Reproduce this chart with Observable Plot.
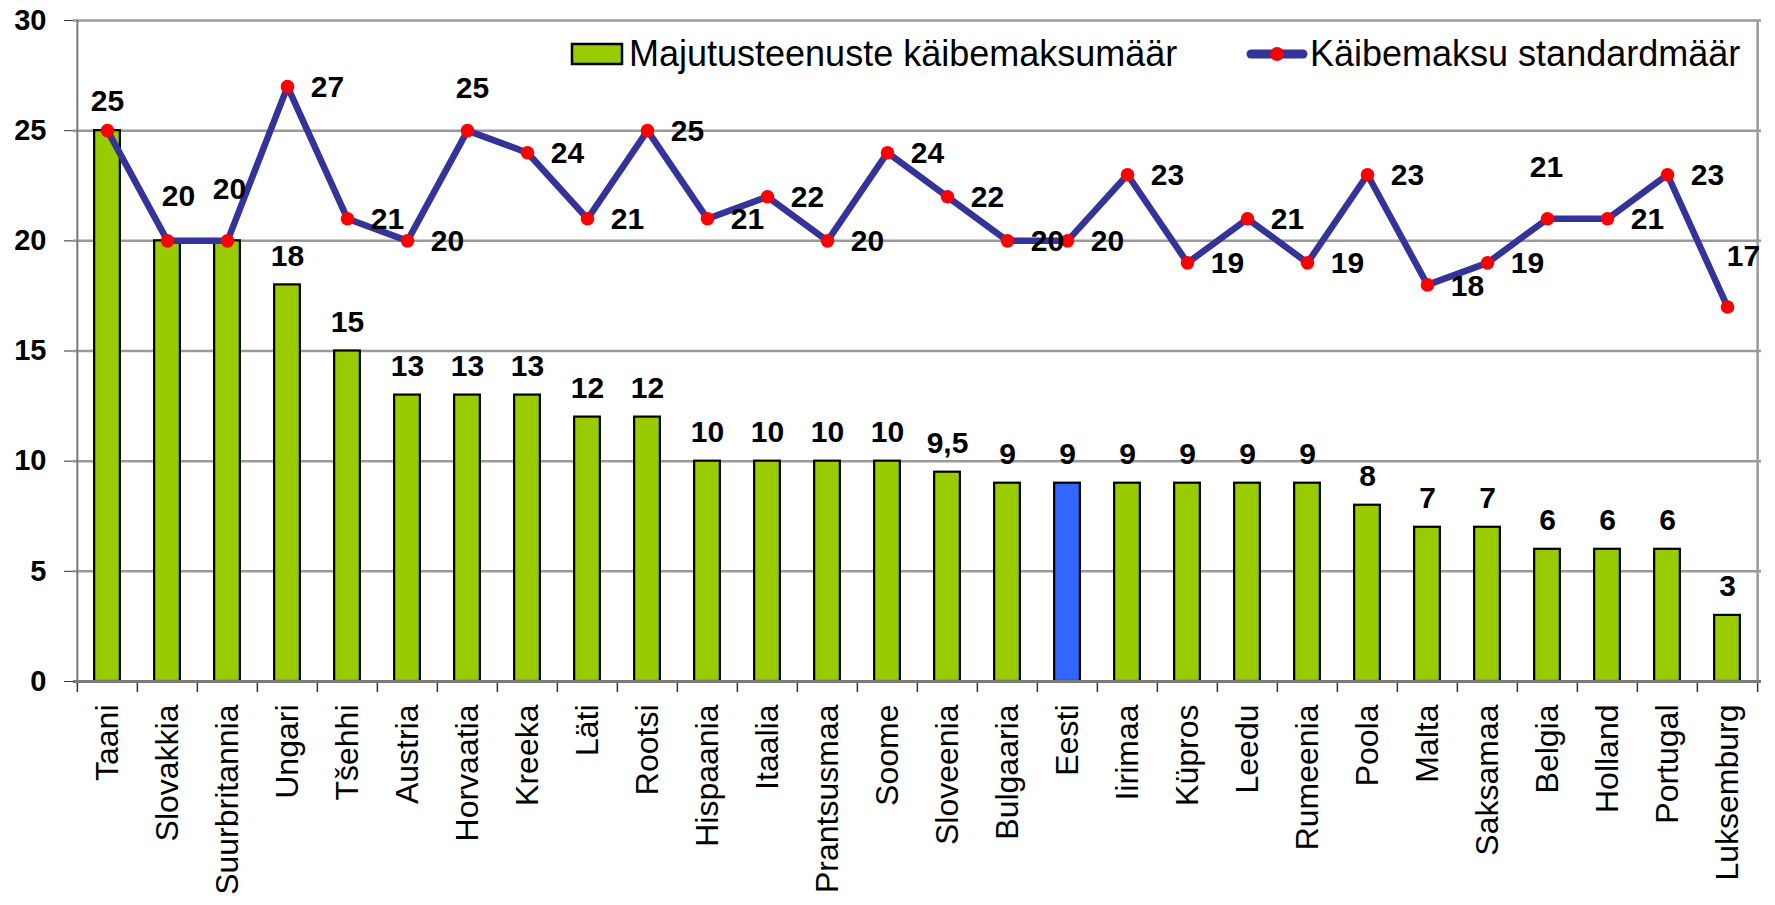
<!DOCTYPE html>
<html>
<head>
<meta charset="utf-8">
<script src="https://cdn.jsdelivr.net/npm/d3@7"></script>
<script src="https://cdn.jsdelivr.net/npm/@observablehq/plot@0.6"></script>
<style>
  html, body { margin: 0; padding: 0; background: #fff; }
  #wrap { position: relative; width: 1775px; height: 905px; overflow: hidden; }
  #legend { position: absolute; left: 0; top: 0; pointer-events: none; }
</style>
</head>
<body>
<div id="wrap"></div>
<script>
// ---------- data ----------
const countries = ["Taani","Slovakkia","Suurbritannia","Ungari","Tšehhi","Austria","Horvaatia","Kreeka","Läti","Rootsi","Hispaania","Itaalia","Prantsusmaa","Soome","Sloveenia","Bulgaaria","Eesti","Iirimaa","Küpros","Leedu","Rumeenia","Poola","Malta","Saksamaa","Belgia","Holland","Portugal","Luksemburg"];
const accommodationRate = [25,20,20,18,15,13,13,13,12,12,10,10,10,10,9.5,9,9,9,9,9,9,8,7,7,6,6,6,3];
const standardRate = [25,20,20,27,21,20,25,24,21,25,21,22,20,24,22,20,20,23,19,21,19,23,18,19,21,21,23,17];
const yTicks = [0,5,10,15,20,25,30];
const highlightCountry = "Eesti";
const seriesNames = ["Majutusteenuste käibemaksumäär", "Käibemaksu standardmäär"];

// ---------- layout / style ----------
const W = 1775, H = 905, ML = 73, MR = 14, MT = 20, MB = 224;
const step = (W - ML - MR) / countries.length;
const barW = 26;
const inset = (step - barW) / 2;
const FONT = '"Liberation Sans", Arial, Helvetica, sans-serif';
const GREEN = "#99cc00", BLUE = "#3366ff", NAVY = "#333399", RED = "#ff0000", GRID = "#9a9a9a";
const fmt = v => String(v).replace(".", ",");

const data = countries.map((c, i) => ({country: c, acc: accommodationRate[i], std: standardRate[i]}));

// label placement groups for the standard-rate line labels (offsets only)
const placements = [
  {names: ["Taani"], dx: 0, dy: -29},
  {names: ["Slovakkia"], dx: 11, dy: -44},
  {names: ["Suurbritannia"], dx: 2, dy: -51},
  {names: ["Horvaatia"], dx: 5, dy: -42},
  {names: ["Belgia"], dx: -1, dy: -51},
  {names: ["Luksemburg"], dx: 16, dy: -51}
];
const special = new Set(placements.flatMap(p => p.names));

const labelStyle = {fontSize: 30, fontWeight: "bold", fill: "black"};

const lineLabelMarks = [
  Plot.text(data.filter(d => !special.has(d.country)), {
    x: "country", y: "std", text: d => fmt(d.std), dx: 40, dy: 1, ...labelStyle
  }),
  ...placements.map(p => Plot.text(data.filter(d => p.names.includes(d.country)), {
    x: "country", y: "std", text: d => fmt(d.std), dx: p.dx, dy: p.dy, ...labelStyle
  }))
];

const chart = Plot.plot({
  width: W, height: H,
  marginLeft: ML, marginRight: MR, marginTop: MT, marginBottom: MB,
  style: {fontFamily: FONT, background: "white", overflow: "visible", color: "black"},
  x: {type: "band", domain: countries, padding: 0, label: null},
  y: {domain: [0, 30], label: null},
  marks: [
    Plot.gridY(yTicks, {stroke: GRID, strokeOpacity: 1, strokeWidth: 2.5}),
    // right border
    Plot.ruleX([countries[countries.length - 1]], {dx: step / 2, y1: 0, y2: 30, stroke: GRID, strokeWidth: 2.5}),
    // category separator ticks
    Plot.ruleX(countries, {x: d => d, dx: -step / 2, y1: 0, y2: -0.5, stroke: "#333", strokeWidth: 1.5}),
    Plot.ruleX([countries[countries.length - 1]], {dx: step / 2, y1: 0, y2: -0.5, stroke: "#333", strokeWidth: 1.5}),
    // left axis line
    Plot.ruleX([countries[0]], {dx: -step / 2, y1: 0, y2: 30, stroke: "#777", strokeWidth: 2}),
    Plot.barY(data, {
      x: "country", y: "acc",
      fill: d => d.country === highlightCountry ? BLUE : GREEN,
      stroke: "black", strokeWidth: 2.2,
      insetLeft: inset, insetRight: inset
    }),
    Plot.ruleY([0], {stroke: "#7a7a7a", strokeWidth: 3}),
    Plot.axisY(yTicks, {
      tickSize: 9, tickPadding: 18, fontSize: 29, fontWeight: "bold",
      stroke: "#333", fill: "black", label: null
    }),
    Plot.axisX({
      tickSize: 0, tickPadding: 23, tickRotate: -90, fontSize: 32,
      fill: "black", label: null
    }),
    Plot.lineY(data, {x: "country", y: "std", stroke: NAVY, strokeWidth: 6.5}),
    Plot.dot(data, {x: "country", y: "std", r: 6.8, fill: RED, stroke: "none"}),
    Plot.text(data.filter(d => d.acc !== d.std), {
      x: "country", y: "acc", text: d => fmt(d.acc), dy: -29, ...labelStyle
    }),
    ...lineLabelMarks
  ]
});

const wrap = document.getElementById("wrap");
wrap.appendChild(chart);

// ---------- legend (overlaid inside the plot area) ----------
const leg = d3.select(wrap).append("svg")
  .attr("id", "legend").attr("width", W).attr("height", 100)
  .style("font-family", FONT);
const g1 = leg.append("g");
g1.append("rect").attr("x", 572).attr("y", 44).attr("width", 50).attr("height", 20)
  .attr("fill", GREEN).attr("stroke", "black").attr("stroke-width", 2.5);
g1.append("text").attr("x", 629).attr("y", 66).attr("font-size", 36).attr("fill", "black")
  .text(seriesNames[0]);
const g2 = leg.append("g");
g2.append("line").attr("x1", 1251).attr("x2", 1303).attr("y1", 54).attr("y2", 54)
  .attr("stroke", NAVY).attr("stroke-width", 9).attr("stroke-linecap", "round");
g2.append("circle").attr("cx", 1277).attr("cy", 54).attr("r", 7).attr("fill", RED);
g2.append("text").attr("x", 1310).attr("y", 66).attr("font-size", 36).attr("fill", "black")
  .text(seriesNames[1]);
</script>
</body>
</html>
